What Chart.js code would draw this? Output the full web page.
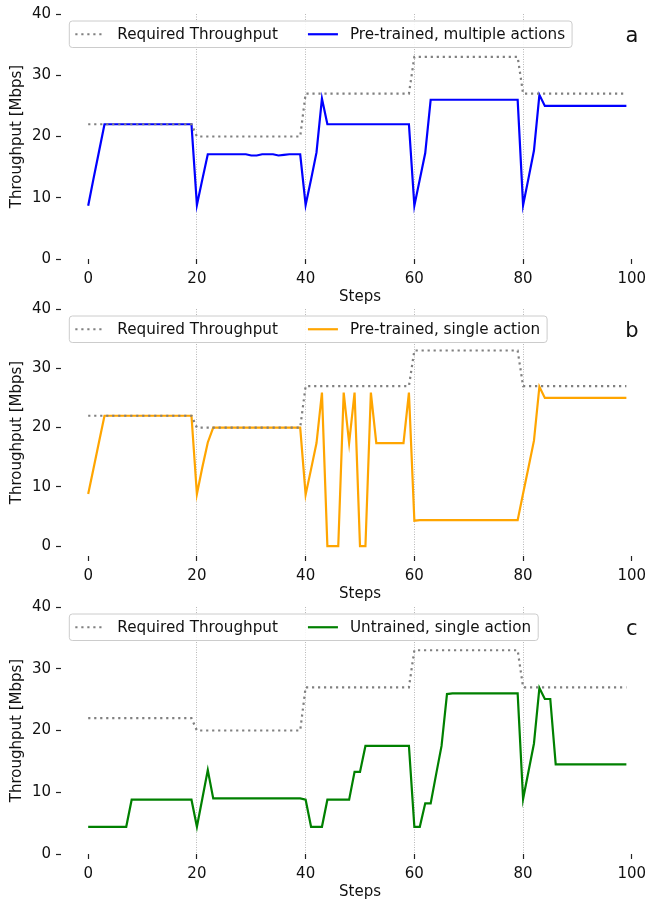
<!DOCTYPE html>
<html>
<head>
<meta charset="utf-8">
<script src="https://cdn.jsdelivr.net/npm/chart.js@4.4.1/dist/chart.umd.min.js"></script>
<style>
  html, body { margin: 0; padding: 0; background: #fff; width: 647px; height: 902px; overflow: hidden; position: relative; }
  canvas { position: absolute; left: 0; }
</style>
</head>
<body>
<canvas id="chartA"></canvas>
<canvas id="chartB"></canvas>
<canvas id="chartC"></canvas>
<script>
// x positions (steps 0..99)
const steps = Array.from({ length: 100 }, (_, i) => i);

const xTicks = [0, 20, 40, 60, 80, 100];
const yTicks = [0, 10, 20, 30, 40];
const gridSteps = [20, 40, 60, 80];

const requiredThroughput = [
  22, 22, 22, 22, 22, 22, 22, 22, 22, 22, 22, 22, 22, 22, 22, 22, 22, 22, 22, 22,
  20, 20, 20, 20, 20, 20, 20, 20, 20, 20, 20, 20, 20, 20, 20, 20, 20, 20, 20, 20,
  27, 27, 27, 27, 27, 27, 27, 27, 27, 27, 27, 27, 27, 27, 27, 27, 27, 27, 27, 27,
  33, 33, 33, 33, 33, 33, 33, 33, 33, 33, 33, 33, 33, 33, 33, 33, 33, 33, 33, 33,
  27, 27, 27, 27, 27, 27, 27, 27, 27, 27, 27, 27, 27, 27, 27, 27, 27, 27, 27, 27
];

// a: pre-trained, multiple actions
const multiActions = [
  8.7, 13.2, 17.6, 22, 22, 22, 22, 22, 22, 22, 22, 22, 22, 22, 22, 22, 22, 22, 22, 22,
  8.8, 13.0, 17.1, 17.1, 17.1, 17.1, 17.1, 17.1, 17.1, 17.1, 16.9, 16.9, 17.1, 17.1, 17.1, 16.9, 17.0, 17.1, 17.1, 17.1,
  8.8, 13.0, 17.4, 26.2, 22, 22, 22, 22, 22, 22, 22, 22, 22, 22, 22, 22, 22, 22, 22, 22,
  8.7, 13.0, 17.3, 26, 26, 26, 26, 26, 26, 26, 26, 26, 26, 26, 26, 26, 26, 26, 26, 26,
  8.8, 13.2, 17.7, 26.8, 25, 25, 25, 25, 25, 25, 25, 25, 25, 25, 25, 25, 25, 25, 25, 25
];

// b: pre-trained, single action
const singleAction = [
  8.8, 13.2, 17.6, 22, 22, 22, 22, 22, 22, 22, 22, 22, 22, 22, 22, 22, 22, 22, 22, 22,
  8.8, 13.3, 17.5, 20, 20, 20, 20, 20, 20, 20, 20, 20, 20, 20, 20, 20, 20, 20, 20, 20,
  8.7, 13.0, 17.4, 25.9, 0, 0, 0, 25.9, 17.4, 25.9, 0, 0, 25.9, 17.4, 17.4, 17.4, 17.4, 17.4, 17.4, 25.9,
  4.3, 4.4, 4.4, 4.4, 4.4, 4.4, 4.4, 4.4, 4.4, 4.4, 4.4, 4.4, 4.4, 4.4, 4.4, 4.4, 4.4, 4.4, 4.4, 4.4,
  8.9, 13.3, 17.8, 26.9, 25, 25, 25, 25, 25, 25, 25, 25, 25, 25, 25, 25, 25, 25, 25, 25
];

// c: untrained, single action
const untrained = [
  4.4, 4.4, 4.4, 4.4, 4.4, 4.4, 4.4, 4.4, 8.8, 8.8, 8.8, 8.8, 8.8, 8.8, 8.8, 8.8, 8.8, 8.8, 8.8, 8.8,
  4.4, 9.0, 13.6, 9.0, 9.0, 9.0, 9.0, 9.0, 9.0, 9.0, 9.0, 9.0, 9.0, 9.0, 9.0, 9.0, 9.0, 9.0, 9.0, 9.0,
  8.8, 4.4, 4.4, 4.4, 8.8, 8.8, 8.8, 8.8, 8.8, 13.3, 13.3, 17.5, 17.5, 17.5, 17.5, 17.5, 17.5, 17.5, 17.5, 17.5,
  4.4, 4.4, 8.2, 8.2, 12.9, 17.5, 25.9, 26, 26, 26, 26, 26, 26, 26, 26, 26, 26, 26, 26, 26,
  8.9, 13.4, 17.9, 26.9, 25.1, 25.1, 14.5, 14.5, 14.5, 14.5, 14.5, 14.5, 14.5, 14.5, 14.5, 14.5, 14.5, 14.5, 14.5, 14.5
];

const FONT = '"DejaVu Sans", sans-serif';
const TEXT = '#111';

// boxed legend + panel letter, drawn on top of the lines
const legendBox = {
  id: 'legendBox',
  afterDraw(chart, args, opts) {
    const { ctx, chartArea } = chart;
    const items = chart.data.datasets;
    ctx.save();
    ctx.font = '15.2px ' + FONT;
    const left = chartArea.left + 8.3, top = chartArea.top + 7, h = 26.5;
    let w = 6;
    items.forEach((d, i) => {
      w += 30 + 12 + ctx.measureText(d.label).width;
      if (i < items.length - 1) w += 30;
    });
    w += 7;
    ctx.beginPath();
    ctx.roundRect(left, top, w, h, 3);
    ctx.fillStyle = 'rgba(255,255,255,0.85)';
    ctx.fill();
    ctx.strokeStyle = '#cccccc';
    ctx.lineWidth = 1;
    ctx.stroke();

    const cy = top + h / 2;
    let x = left + 6;
    items.forEach(d => {
      ctx.beginPath();
      ctx.setLineDash(d.borderDash || []);
      ctx.strokeStyle = d.borderColor;
      ctx.lineWidth = d.borderWidth;
      ctx.moveTo(x, cy);
      ctx.lineTo(x + 30, cy);
      ctx.stroke();
      ctx.setLineDash([]);
      x += 42;
      ctx.fillStyle = TEXT;
      ctx.textBaseline = 'middle';
      ctx.textAlign = 'left';
      ctx.fillText(d.label, x, cy + 1);
      x += ctx.measureText(d.label).width + 30;
    });

    ctx.font = '21px ' + FONT;
    ctx.textAlign = 'center';
    ctx.textBaseline = 'alphabetic';
    ctx.fillText(opts.letter, chart.scales.x.getPixelForValue(100), chartArea.top + 27.5);
    ctx.restore();
  }
};

function makePanel(id, p) {
  const canvas = document.getElementById(id);
  const axisH = 47;
  canvas.width = 680;
  canvas.height = (p.areaBottom - p.canvasTop) + axisH;
  canvas.style.top = p.canvasTop + 'px';

  return new Chart(canvas, {
    type: 'line',
    data: {
      datasets: [
        {
          label: 'Required Throughput',
          data: steps.map((s, i) => ({ x: s, y: requiredThroughput[i] })),
          borderColor: '#808080',
          borderWidth: 2.2,
          borderDash: [2.2, 3.8],
          pointRadius: 0,
          tension: 0
        },
        {
          label: p.label,
          data: steps.map((s, i) => ({ x: s, y: p.values[i] })),
          borderColor: p.color,
          borderWidth: 2.2,
          pointRadius: 0,
          tension: 0
        }
      ]
    },
    options: {
      responsive: false,
      animation: false,
      layout: { padding: { top: p.areaTop - p.canvasTop, right: 21, bottom: 0, left: 0 } },
      plugins: {
        legend: { display: false },
        tooltip: { enabled: false },
        legendBox: { letter: p.letter }
      },
      scales: {
        x: {
          type: 'linear',
          min: -5,
          max: 105,
          afterBuildTicks: s => { s.ticks = xTicks.map(v => ({ value: v })); },
          afterFit: s => { s.height = axisH; },
          grid: {
            color: c => (c.tick && gridSteps.includes(c.tick.value)) ? '#b8b8b8' : 'rgba(0,0,0,0)',
            lineWidth: 1,
            tickColor: '#222',
            tickLength: 5,
            tickWidth: 1.2
          },
          border: { display: false, dash: [1, 1.5] },
          ticks: { padding: 6, color: TEXT, font: { family: FONT, size: 15 }, maxRotation: 0, autoSkip: false },
          title: { display: true, text: 'Steps', color: TEXT, font: { family: FONT, size: 15 }, padding: { top: 0, bottom: 0 } }
        },
        y: {
          min: p.yMin,
          max: 40,
          afterBuildTicks: s => { s.ticks = yTicks.map(v => ({ value: v })); },
          afterFit: s => { s.width = 61; },
          grid: { drawOnChartArea: false, tickColor: '#222', tickLength: 5, tickWidth: 1.2 },
          border: { display: false },
          ticks: { padding: 5, color: TEXT, font: { family: FONT, size: 15 } },
          title: { display: true, text: 'Throughput [Mbps]', color: TEXT, font: { family: FONT, size: 15 }, padding: { top: 8.5, bottom: 0 } }
        }
      }
    },
    plugins: [legendBox]
  });
}

makePanel('chartA', { canvasTop: 0, areaTop: 13, areaBottom: 259, yMin: 0,
  label: 'Pre-trained, multiple actions', color: '#0000ff', values: multiActions, letter: 'a' });
makePanel('chartB', { canvasTop: 290, areaTop: 309, areaBottom: 556, yMin: -1.65,
  label: 'Pre-trained, single action', color: '#ffa500', values: singleAction, letter: 'b' });
makePanel('chartC', { canvasTop: 590, areaTop: 607, areaBottom: 854, yMin: 0,
  label: 'Untrained, single action', color: '#008000', values: untrained, letter: 'c' });
</script>
</body>
</html>
